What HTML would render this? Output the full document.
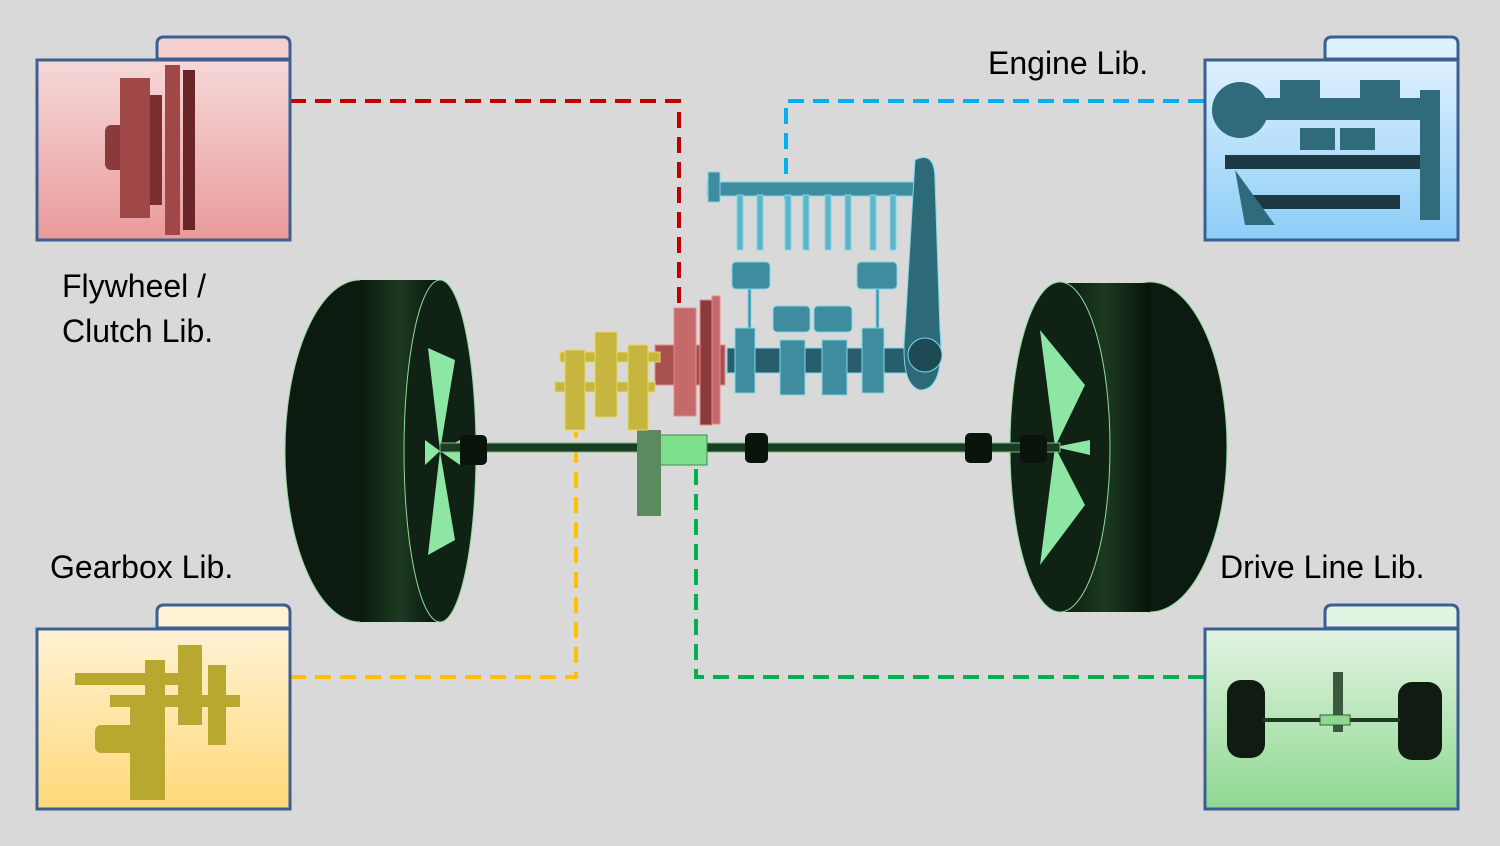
<!DOCTYPE html>
<html><head><meta charset="utf-8"><style>
html,body{margin:0;padding:0;background:#d9d9d9;}
svg{display:block}
text{font-family:"Liberation Sans",sans-serif;font-size:32px;fill:#000}
</style></head><body>
<svg width="1500" height="846" viewBox="0 0 1500 846" xmlns="http://www.w3.org/2000/svg">
<defs>
<linearGradient id="gr" x1="0" y1="0" x2="0" y2="1"><stop offset="0" stop-color="#f6d8d8"/><stop offset="1" stop-color="#e99a9a"/></linearGradient>
<linearGradient id="gb" x1="0" y1="0" x2="0" y2="1"><stop offset="0" stop-color="#dff1ff"/><stop offset="1" stop-color="#8ccdf6"/></linearGradient>
<linearGradient id="gy" x1="0" y1="0" x2="0" y2="1"><stop offset="0" stop-color="#fff2d4"/><stop offset="1" stop-color="#ffd878"/></linearGradient>
<linearGradient id="gg" x1="0" y1="0" x2="0" y2="1"><stop offset="0" stop-color="#e2f4e2"/><stop offset="1" stop-color="#8fd890"/></linearGradient>
<linearGradient id="tire" x1="0" y1="0" x2="1" y2="0"><stop offset="0" stop-color="#0a1a0e"/><stop offset="0.5" stop-color="#1c3a22"/><stop offset="1" stop-color="#08140a"/></linearGradient>
</defs>

<g fill="none" stroke-width="4" stroke-dasharray="16 9">
<polyline points="290,101 679,101 679,312" stroke="#c00000"/>
<polyline points="1204,101 786,101 786,200" stroke="#00b0f0"/>
<polyline points="290,677 576,677 576,432" stroke="#ffc000"/>
<polyline points="1204,677 696,677 696,468" stroke="#00b050"/>
</g>

<g stroke="#3c5f93" stroke-width="3">
<path d="M157,59 V44 Q157,37 164,37 H283 Q290,37 290,44 V59 Z" fill="#f4d0d0"/>
<rect x="37" y="60" width="253" height="180" fill="url(#gr)"/>
<path d="M1325,59 V44 Q1325,37 1332,37 H1451 Q1458,37 1458,44 V59 Z" fill="#dff1ff"/>
<rect x="1205" y="60" width="253" height="180" fill="url(#gb)"/>
<path d="M157,628 V612 Q157,605 164,605 H283 Q290,605 290,612 V628 Z" fill="#fff2d4"/>
<rect x="37" y="629" width="253" height="180" fill="url(#gy)"/>
<path d="M1325,628 V612 Q1325,605 1332,605 H1451 Q1458,605 1458,612 V628 Z" fill="#e2f4e2"/>
<rect x="1205" y="629" width="253" height="180" fill="url(#gg)"/>
</g>

<g fill="#8a3a3a">
<rect x="105" y="125" width="20" height="45" rx="6"/>
<rect x="120" y="78" width="30" height="140" fill="#a04848"/>
<rect x="150" y="95" width="12" height="110" fill="#7a2e2e"/>
<rect x="165" y="65" width="15" height="170" fill="#a04848"/>
<rect x="183" y="70" width="12" height="160" fill="#6a2626"/>
</g>
<g fill="#2f6b7a">
<circle cx="1240" cy="110" r="28"/>
<rect x="1230" y="98" width="210" height="22"/>
<rect x="1225" y="155" width="215" height="14" fill="#1d3a44"/>
<rect x="1250" y="195" width="150" height="14" fill="#1d3a44"/>
<rect x="1280" y="80" width="40" height="22"/><rect x="1360" y="80" width="40" height="22"/>
<rect x="1300" y="128" width="35" height="22"/><rect x="1340" y="128" width="35" height="22"/>
<path d="M1235,170 L1275,225 L1245,225 Z"/><rect x="1420" y="90" width="20" height="130"/>
</g>
<g fill="#b8a830">
<rect x="75" y="673" width="120" height="12"/>
<rect x="95" y="725" width="60" height="28" rx="6"/>
<rect x="145" y="660" width="20" height="75"/>
<rect x="178" y="645" width="24" height="80"/>
<rect x="208" y="665" width="18" height="80"/>
<rect x="130" y="700" width="35" height="100"/>
<rect x="110" y="695" width="130" height="12"/>
</g>
<g>
<rect x="1227" y="680" width="38" height="78" rx="14" fill="#101c12"/>
<rect x="1398" y="682" width="44" height="78" rx="14" fill="#101c12"/>
<rect x="1263" y="718" width="137" height="4" fill="#1d3a22"/>
<rect x="1333" y="672" width="10" height="60" fill="#3a5a3e"/>
<rect x="1320" y="715" width="30" height="10" fill="#90d890" stroke="#3a5a3e"/>
</g>

<!-- left wheel -->
<ellipse cx="360" cy="451" rx="75" ry="171" fill="#0c1a10" stroke="#8fdc9a" stroke-width="1"/>
<rect x="360" y="280" width="80" height="342" fill="url(#tire)"/>
<ellipse cx="440" cy="451" rx="36" ry="171" fill="#0f2213" stroke="#8fdc9a" stroke-width="1"/>
<path d="M440,451 L428,348 L455,360 Z M440,451 L460,440 L460,465 Z M440,451 L428,555 L455,540 Z M440,451 L425,440 L425,465Z" fill="#8ee6a4"/>
<!-- right wheel -->
<ellipse cx="1150" cy="447" rx="77" ry="165" fill="#0c1a10" stroke="#8fdc9a" stroke-width="1"/>
<rect x="1060" y="283" width="90" height="329" fill="url(#tire)"/>
<ellipse cx="1060" cy="447" rx="50" ry="165" fill="#0f2213" stroke="#8fdc9a" stroke-width="1"/>
<path d="M1055,447 L1040,330 L1085,385 Z M1055,447 L1040,565 L1085,505 Z M1055,447 L1090,440 L1090,455 Z" fill="#8ee6a4"/>

<rect x="440" y="443" width="620" height="9" fill="#1d3a22" stroke="#6fc07a" stroke-width="1"/>
<rect x="460" y="435" width="27" height="30" rx="5" fill="#0a140c"/>
<rect x="745" y="433" width="23" height="30" rx="5" fill="#0a140c"/>
<rect x="965" y="433" width="27" height="30" rx="5" fill="#0a140c"/>
<rect x="1020" y="435" width="27" height="28" rx="5" fill="#0a140c"/>
<rect x="660" y="435" width="47" height="30" fill="#7ee08e" stroke="#3d8a48"/>
<rect x="637" y="430" width="24" height="86" fill="#5a8a5e"/>

<g fill="#3f8c9e" stroke="#7fd8ec" stroke-width="1">
<rect x="707" y="182" width="218" height="14"/>
<rect x="708" y="172" width="12" height="30"/>
<g fill="#5fb4c8">
<rect x="737" y="195" width="6" height="55"/><rect x="757" y="195" width="6" height="55"/>
<rect x="785" y="195" width="6" height="55"/><rect x="803" y="195" width="6" height="55"/>
<rect x="825" y="195" width="6" height="55"/><rect x="845" y="195" width="6" height="55"/>
<rect x="870" y="195" width="6" height="55"/><rect x="890" y="195" width="6" height="55"/>
</g>
<rect x="732" y="262" width="38" height="27" rx="4"/>
<rect x="773" y="306" width="37" height="26" rx="4"/>
<rect x="814" y="306" width="38" height="26" rx="4"/>
<rect x="857" y="262" width="40" height="27" rx="4"/>
<rect x="748" y="289" width="3" height="45"/><rect x="876" y="289" width="3" height="45"/>
<rect x="727" y="348" width="180" height="25" fill="#285e6c"/>
<rect x="735" y="328" width="20" height="65"/><rect x="780" y="340" width="25" height="55"/>
<rect x="822" y="340" width="25" height="55"/><rect x="862" y="328" width="22" height="65"/>
<path d="M915,160 Q935,150 935,180 L940,330 Q945,390 920,390 Q900,385 905,330 Z" fill="#2d6a78"/>
<circle cx="925" cy="355" r="17" fill="#1d4a54"/>
</g>
<g fill="#c56a6a" stroke="#e88a8a" stroke-width="1">
<rect x="655" y="345" width="70" height="40" fill="#a85050"/>
<rect x="674" y="308" width="22" height="108"/>
<rect x="700" y="300" width="12" height="125" fill="#8a3a3a"/>
<rect x="712" y="296" width="8" height="128"/>
</g>
<g fill="#c6b640" stroke="#e8d860" stroke-width="1">
<rect x="560" y="352" width="100" height="10"/>
<rect x="555" y="382" width="100" height="10"/>
<rect x="565" y="350" width="20" height="80"/>
<rect x="595" y="332" width="22" height="85"/>
<rect x="628" y="345" width="20" height="85"/>
</g>

<text x="988" y="74">Engine Lib.</text>
<text x="62" y="297">Flywheel /</text>
<text x="62" y="342">Clutch Lib.</text>
<text x="50" y="578">Gearbox Lib.</text>
<text x="1220" y="578">Drive Line Lib.</text>
</svg>
</body></html>
